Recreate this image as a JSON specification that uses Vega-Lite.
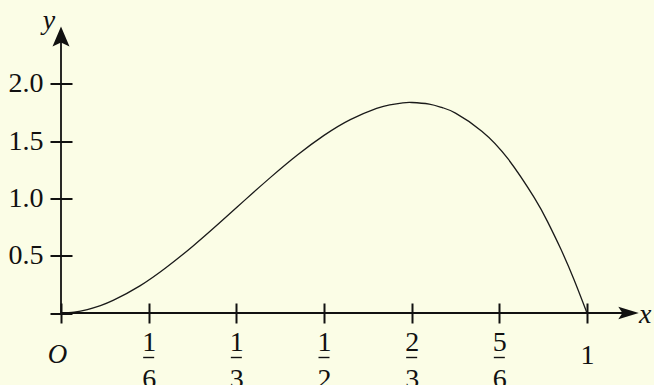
{
  "$schema": "https://vega.github.io/schema/vega-lite/v6.json",
  "width": 578.6,
  "height": 286.5,
  "autosize": "none",
  "padding": {"left": 61, "top": 26.5, "right": 14.4, "bottom": 72},
  "background": "#fbfde6",
  "config": {"view": {"stroke": null}, "font": "Liberation Serif", "text": {"font": "Liberation Serif", "color": "#111111"}},
  "layer": [
    {
      "data": {"values": [
        {"x": 0, "y": 0}, {"x": 0.025, "y": 0.0075}, {"x": 0.05, "y": 0.03}, {"x": 0.075, "y": 0.065}, {"x": 0.1, "y": 0.112},
        {"x": 0.15, "y": 0.237}, {"x": 0.2, "y": 0.397}, {"x": 0.25, "y": 0.581}, {"x": 0.3, "y": 0.781},
        {"x": 0.35, "y": 0.987}, {"x": 0.4, "y": 1.19}, {"x": 0.45, "y": 1.381}, {"x": 0.5, "y": 1.55},
        {"x": 0.55, "y": 1.688}, {"x": 0.6, "y": 1.786}, {"x": 0.625, "y": 1.817}, {"x": 0.65, "y": 1.834},
        {"x": 0.667, "y": 1.837}, {"x": 0.7, "y": 1.823}, {"x": 0.725, "y": 1.792},
        {"x": 0.75, "y": 1.744}, {"x": 0.8, "y": 1.587}, {"x": 0.85, "y": 1.344}, {"x": 0.9, "y": 1.004},
        {"x": 0.925, "y": 0.797}, {"x": 0.95, "y": 0.56}, {"x": 0.975, "y": 0.295}, {"x": 1, "y": 0}
      ]},
      "mark": {"type": "line", "color": "#1a1a1a", "strokeWidth": 1.3, "interpolate": "natural"},
      "encoding": {
        "x": {
          "field": "x", "type": "quantitative",
          "scale": {"domain": [0, 1.1], "nice": false, "zero": false},
          "axis": {
            "title": null, "grid": false, "domain": false,
            "values": [0, 0.16666667, 0.33333333, 0.5, 0.66666667, 0.83333333, 1],
            "offset": -10, "tickSize": 20, "tickWidth": 2, "tickColor": "#111111",
            "labelExpr": "datum.value < 0.01 ? '' : datum.value > 0.99 ? '1' : [['1','1','1','2','5'][round(datum.value*6)-1], ['6','3','2','3','6'][round(datum.value*6)-1]]",
            "labelFont": "Liberation Serif", "labelFontSize": 28, "labelColor": "#111111",
            "labelLineHeight": 37, "labelBaseline": "top",
            "labelPadding": {"condition": {"test": "datum.value > 0.99", "value": 18}, "value": 5},
            "labelFlush": false, "labelOverlap": false
          }
        },
        "y": {
          "field": "y", "type": "quantitative",
          "scale": {"domain": [0, 2.5], "nice": false, "zero": false},
          "axis": {
            "title": null, "grid": false, "domain": false,
            "values": [0, 0.5, 1, 1.5, 2],
            "offset": -11, "tickSize": 22, "tickWidth": 2, "tickColor": "#111111",
            "labelExpr": "datum.value == 0 ? '' : format(datum.value, '.1f')",
            "labelFont": "Liberation Serif", "labelFontSize": 28, "labelColor": "#111111",
            "labelPadding": 7, "labelFlush": false, "labelOverlap": false
          }
        }
      }
    },
    {
      "data": {"values": [{}]},
      "mark": {"type": "rule", "color": "#111111", "strokeWidth": 1.8},
      "encoding": {"x": {"datum": 0}, "x2": {"datum": 1.077}, "y": {"datum": 0}}
    },
    {
      "data": {"values": [{}]},
      "mark": {"type": "rule", "color": "#111111", "strokeWidth": 1.8},
      "encoding": {"x": {"datum": 0}, "y": {"datum": 0}, "y2": {"datum": 2.41}}
    },
    {
      "data": {"values": [{}]},
      "mark": {"type": "point", "filled": true, "color": "#111111", "opacity": 1, "size": 420, "shape": "M 1 0 L -1 0.62 L -0.6 0 L -1 -0.62 Z"},
      "encoding": {"x": {"datum": 1.079}, "y": {"datum": 0}}
    },
    {
      "data": {"values": [{}]},
      "mark": {"type": "point", "filled": true, "color": "#111111", "opacity": 1, "size": 400, "shape": "M 0 -1 L 0.85 1 L 0 0.6 L -0.85 1 Z"},
      "encoding": {"x": {"datum": 0}, "y": {"datum": 2.413}}
    },
    {
      "data": {"values": [{"x": 0.16666667}, {"x": 0.33333333}, {"x": 0.5}, {"x": 0.66666667}, {"x": 0.83333333}]},
      "mark": {"type": "tick", "orient": "horizontal", "color": "#111111", "size": 11, "thickness": 1.4, "yOffset": 44.5, "opacity": 1},
      "encoding": {"x": {"field": "x", "type": "quantitative"}, "y": {"datum": 0}}
    },
    {
      "data": {"values": [{}]},
      "mark": {"type": "text", "text": "O", "fontStyle": "italic", "fontSize": 27, "align": "center", "baseline": "alphabetic", "dx": -3.5, "dy": 50},
      "encoding": {"x": {"datum": 0}, "y": {"datum": 0}}
    },
    {
      "data": {"values": [{}]},
      "mark": {"type": "text", "text": "x", "fontStyle": "italic", "fontSize": 28, "align": "center", "baseline": "alphabetic", "dx": 5.5, "dy": 10},
      "encoding": {"x": {"datum": 1.1}, "y": {"datum": 0}}
    },
    {
      "data": {"values": [{}]},
      "mark": {"type": "text", "text": "y", "fontStyle": "italic", "fontSize": 28, "align": "center", "baseline": "alphabetic", "dx": -12, "dy": 2}
      ,
      "encoding": {"x": {"datum": 0}, "y": {"datum": 2.5}}
    }
  ]
}
